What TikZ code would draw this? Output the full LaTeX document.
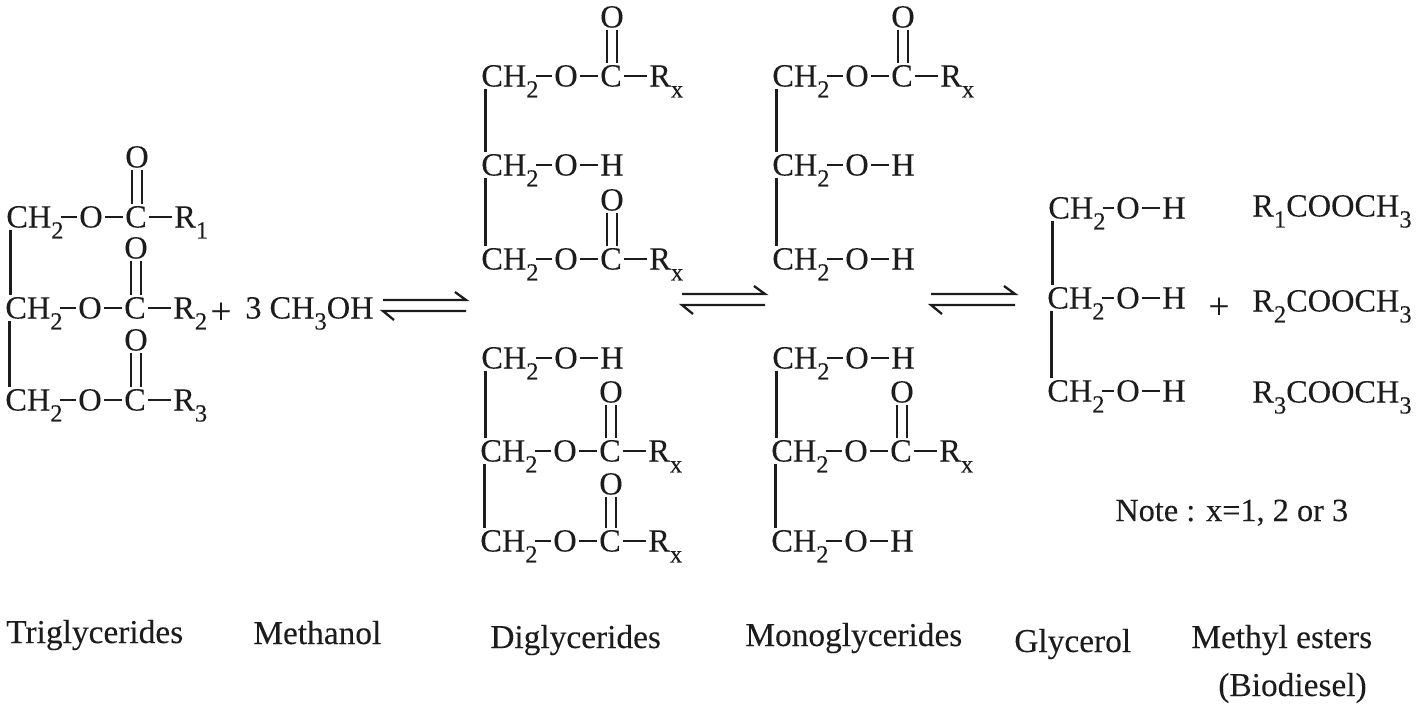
\documentclass[tikz,border=0pt]{standalone}
\usepackage{fontspec}
\setmainfont{Liberation Serif}[FakeBold=0.12]
\usetikzlibrary{calc}
\definecolor{inkgray}{HTML}{1C1C1C}
\newcommand{\chemfont}{\fontsize{18.4}{22}\selectfont}
\newcommand{\capfont}{\fontsize{19}{23}\selectfont}
\newcommand{\lowsub}[1]{\raisebox{-.34em}{\fontsize{14}{15}\selectfont #1}}
\tikzstyle{atom}=[inner xsep=.04cm, inner ysep=.04cm, text height=.42cm, text depth=0cm, text=inkgray, font=\chemfont]
\tikzstyle{caption}=[inner sep=0pt, text=inkgray, font=\capfont, anchor=base west]
\tikzstyle{plussign}=[inner sep=0pt, text=inkgray, font=\fontsize{21}{21}\selectfont]
\tikzstyle{bond}=[inkgray, line width=1.2pt]
\tikzstyle{harpoon}=[inkgray, line width=1.3pt]
% one CH2-O-C(=O)-R row
\newcommand{\esterrow}[5]{
	\node[atom, anchor=west] (#1ch) at (#2,#3) {CH\lowsub{2}};
	\node[atom] (#1o) at (#2+87,#3) {O};
	\node[atom] (#1c) at (#2+132,#3) {C};
	\node[atom, anchor=west] (#1r) at (#2+168,#3) {R\lowsub{#4}};
	\node[atom] (#1co) at (#2+133,#3-#5) {O};
	\draw[bond] ([xshift=-.1cm]#1ch.east |- #1o.center) -- (#1o.west);
	\draw[bond] (#1o.east) -- (#1c.west);
	\draw[bond] (#1c.east) -- (#1r.west);
	\draw[bond] ([xshift=-.1cm]#1co.south) -- ([xshift=-.1cm]#1co.south |- #1c.north);
	\draw[bond] ([xshift=.1cm]#1co.south) -- ([xshift=.1cm]#1co.south |- #1c.north);
}
% one CH2-O-H row
\newcommand{\alcoholrow}[4][87]{
	\node[atom, anchor=west] (#2ch) at (#3,#4) {CH\lowsub{2}};
	\node[atom] (#2o) at (#3+#1,#4) {O};
	\node[atom] (#2h) at (#3+#1+46,#4) {H};
	\draw[bond] ([xshift=-.1cm]#2ch.east |- #2o.center) -- (#2o.west);
	\draw[bond] (#2o.east) -- (#2h.west);
}
% backbone between two CH2 rows
\newcommand{\backbone}[2]{
	\draw[bond] ([xshift=.13cm]#1ch.south west) -- ([xshift=.13cm]#1ch.south west |- #2ch.north west);
}
% equilibrium arrows
\newcommand{\eqmarks}[4]{
	\coordinate (#1a) at (#2,#4);
	\coordinate (#1b) at (#3,#4);
	\coordinate (#1c) at (#2,#4+11);
	\coordinate (#1d) at (#3,#4+11);
	\coordinate (#1e) at (#3-11,#4-8);
	\coordinate (#1f) at (#2+11,#4+20);
	\draw[harpoon] (#1a) -- (#1b) -- (#1e);
	\draw[harpoon] (#1d) -- (#1c) -- (#1f);
}

\begin{document}
\begin{tikzpicture}[x=.02cm, y=-.02cm]
\useasboundingbox (0,0) rectangle (1418,704);
%
% triglycerides
	\esterrow{ta}{4}{217}{1}{60}
	\esterrow{tb}{3}{308}{2}{60}
	\esterrow{tc}{3}{400}{3}{60}
	\backbone{ta}{tb}
	\backbone{tb}{tc}
	\node[plussign] (plusa) at (221,313) {+};
	\node[atom, anchor=west] (meoh) at (243,308) {3 CH\lowsub{3}OH};
	\eqmarks{ea}{383}{466}{300}
%
% diglycerides
	\esterrow{da}{479}{76}{x}{59}
	\alcoholrow{db}{479}{165}
	\esterrow{dc}{479}{259}{x}{59}
	\backbone{da}{db}
	\backbone{db}{dc}
	\alcoholrow{dd}{479}{358}
	\esterrow{de}{478}{451}{x}{59}
	\esterrow{df}{478}{541}{x}{57}
	\backbone{dd}{de}
	\backbone{de}{df}
	\eqmarks{eb}{682}{765}{294}
%
% monoglycerides
	\esterrow{ma}{770}{76}{x}{59}
	\alcoholrow{mb}{770}{165}
	\alcoholrow{mc}{770}{259}
	\backbone{ma}{mb}
	\backbone{mb}{mc}
	\alcoholrow{md}{770}{358}
	\esterrow{me}{769}{451}{x}{59}
	\alcoholrow{mf}{769}{541}
	\backbone{md}{me}
	\backbone{me}{mf}
	\eqmarks{ec}{931}{1015}{294}
%
% glycerol and esters
	\alcoholrow[82]{ga}{1046}{208}
	\alcoholrow[83]{gb}{1045}{298}
	\alcoholrow[83]{gc}{1045}{391}
	\backbone{ga}{gb}
	\backbone{gb}{gc}
	\node[plussign] (plusb) at (1219,308) {+};
	\node[atom, anchor=west] (esa) at (1250,206) {R\lowsub{1}COOCH\lowsub{3}};
	\node[atom, anchor=west] (esb) at (1250,301) {R\lowsub{2}COOCH\lowsub{3}};
	\node[atom, anchor=west] (esc) at (1250,392) {R\lowsub{3}COOCH\lowsub{3}};
	\node[caption, font=\chemfont] (note) at (1115,521) {Note : x=1, 2 or 3};
%
% captions
	\node[caption] (ltri) at (6,643) {Triglycerides};
	\node[caption] (lmet) at (253,644) {Methanol};
	\node[caption] (ldi) at (490,648) {Diglycerides};
	\node[caption] (lmono) at (745,646) {Monoglycerides};
	\node[caption] (lgly) at (1014,652) {Glycerol};
	\node[caption] (lme) at (1191,648) {Methyl esters};
	\node[caption] (lbio) at (1218,696) {(Biodiesel)};
\end{tikzpicture}
\end{document}
